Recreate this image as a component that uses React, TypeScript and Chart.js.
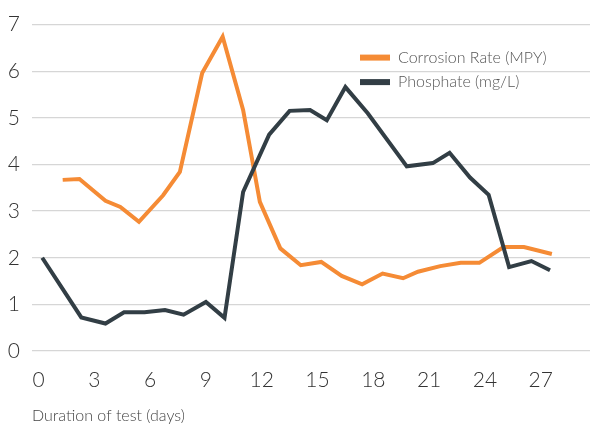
import React, { useEffect, useRef } from "react";
import { Chart, registerables } from "chart.js";

Chart.register(...registerables);

const xTicks = [0, 3, 6, 9, 12, 15, 18, 21, 24, 27];
const yTicks = [0, 1, 2, 3, 4, 5, 6, 7];

const corrosionLabel = "Corrosion Rate (MPY)";
const corrosionDays = [1.3, 2.2, 3.6, 4.4, 5.4, 6.7, 7.6, 8.8, 9.9, 11.0, 11.9, 13.0, 14.1, 15.2, 16.3, 17.4, 18.5, 19.6, 20.4, 21.6, 22.7, 23.7, 25.0, 26.1, 27.6];
const corrosionValues = [3.67, 3.69, 3.22, 3.09, 2.77, 3.34, 3.84, 5.96, 6.74, 5.17, 3.2, 2.2, 1.84, 1.91, 1.61, 1.43, 1.66, 1.56, 1.7, 1.82, 1.89, 1.89, 2.23, 2.23, 2.08];

const phosphateLabel = "Phosphate (mg/L)";
const phosphateDays = [0.2, 2.3, 3.6, 4.6, 5.7, 6.8, 7.8, 9.0, 10.0, 11.0, 12.4, 13.5, 14.6, 15.5, 16.5, 17.7, 19.8, 21.2, 22.1, 23.2, 24.2, 25.3, 26.5, 27.5];
const phosphateValues = [2.0, 0.72, 0.59, 0.83, 0.83, 0.88, 0.78, 1.05, 0.71, 3.41, 4.64, 5.15, 5.17, 4.95, 5.66, 5.1, 3.96, 4.03, 4.25, 3.72, 3.35, 1.8, 1.93, 1.73];

const xTitle = "Duration of test (days)";

const ORANGE = "#F58B35";
const DARK = "#323E45";

const legendPlugin = {
  id: "customLegend",
  afterDraw(chart: any) {
    const { ctx, chartArea } = chart;
    ctx.save();
    chart.data.datasets.forEach((ds: any, i: number) => {
      const y = chartArea.top + 33 + i * 24.5;
      const x = chartArea.right - 230;
      ctx.fillStyle = ds.borderColor;
      ctx.fillRect(x, y - 3, 30, 6);
      ctx.fillStyle = "#555";
      ctx.font = "300 16px Lato";
      ctx.textBaseline = "middle";
      ctx.textAlign = "left";
      ctx.fillText(ds.label, x + 38, y);
    });
    ctx.restore();
  },
};

export default function App() {
  const ref = useRef<HTMLCanvasElement>(null);
  useEffect(() => {
    document.body.style.margin = "0";
    const canvas = ref.current!;
    const chart = new Chart(canvas, {
      type: "line",
      data: {
        datasets: [
          {
            label: corrosionLabel,
            data: corrosionDays.map((d, i) => ({ x: d, y: corrosionValues[i] })),
            borderColor: ORANGE,
            backgroundColor: ORANGE,
            borderWidth: 4,
            pointRadius: 0,
            tension: 0,
            fill: false,
            borderJoinStyle: "miter",
            borderCapStyle: "butt",
            order: 1,
          },
          {
            label: phosphateLabel,
            data: phosphateDays.map((d, i) => ({ x: d, y: phosphateValues[i] })),
            borderColor: DARK,
            backgroundColor: DARK,
            borderWidth: 4,
            pointRadius: 0,
            tension: 0,
            fill: false,
            borderJoinStyle: "miter",
            borderCapStyle: "butt",
            order: 0,
          },
        ],
      },
      options: {
        responsive: false,
        animation: false,
        layout: { padding: { top: 21, right: 0, bottom: 0, left: 0 } },
        plugins: {
          legend: { display: false },
          tooltip: { enabled: false },
        },
        scales: {
          x: {
            type: "linear",
            min: -0.35,
            max: 29.65,
            grid: { display: false, drawTicks: false },
            border: { display: false },
            afterBuildTicks: (scale: any) => {
              scale.ticks = xTicks.map((v) => ({ value: v }));
            },
            afterFit: (scale: any) => {
              scale.height = 74;
            },
            ticks: {
              color: "#333",
              padding: 17,
              font: { family: "Lato", size: 21, weight: "300" },
              maxRotation: 0,
              autoSkip: false,
            },
            title: {
              display: true,
              text: xTitle,
              align: "start",
              color: "#444",
              padding: { top: 0, bottom: 0 },
              font: { family: "Lato", size: 16, weight: "300" },
            },
          },
          y: {
            min: 0,
            max: 7,
            afterBuildTicks: (scale: any) => {
              scale.ticks = yTicks.map((v) => ({ value: v }));
            },
            afterFit: (scale: any) => {
              scale.width = 32;
            },
            grid: { color: "#D6D6D6", lineWidth: 1.3, drawTicks: false },
            border: { display: false },
            ticks: {
              color: "#333",
              padding: 12,
              font: { family: "Lato", size: 21, weight: "300" },
            },
          },
        },
      },
      plugins: [legendPlugin],
    });
    return () => chart.destroy();
  }, []);
  return (
    <div style={{ width: 590, height: 425 }}>
      <canvas ref={ref} width={590} height={425} style={{ display: "block" }} />
    </div>
  );
}
